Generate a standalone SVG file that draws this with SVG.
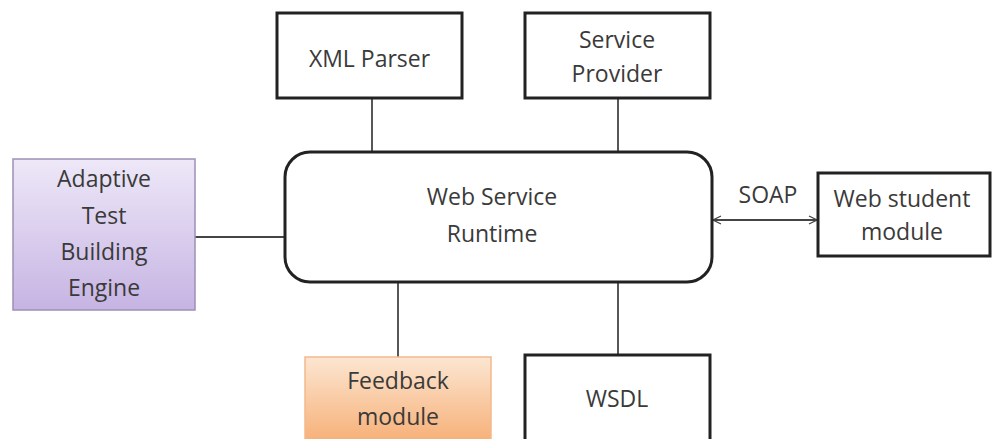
<svg xmlns="http://www.w3.org/2000/svg" width="995" height="439" viewBox="0 0 995 439">
<defs>
<linearGradient id="gPurple" x1="0" y1="0" x2="0" y2="1">
<stop offset="0" stop-color="#eee8f8"/>
<stop offset="1" stop-color="#c6b4e3"/>
</linearGradient>
<linearGradient id="gOrange" x1="0" y1="0" x2="0" y2="1">
<stop offset="0" stop-color="#fce6d2"/>
<stop offset="1" stop-color="#f6ad72"/>
</linearGradient>
<marker id="arr" viewBox="0 0 10 10" refX="9" refY="5" markerWidth="10" markerHeight="10" markerUnits="userSpaceOnUse" orient="auto-start-reverse">
<path d="M1,1 L9,5 L1,9" fill="none" stroke="#444" stroke-width="1.3"/>
</marker>
<style>
.box{fill:#fff;stroke:#222;stroke-width:3}
.t{font-family:"Open Sans","Liberation Sans",sans-serif;font-size:23px;fill:#3a3a3a;text-anchor:middle;dominant-baseline:central}
.ln{stroke:#444;stroke-width:1.8;fill:none}
</style>
</defs>
<rect width="995" height="439" fill="#fff"/>
<g id="connectors">
<line class="ln" x1="372" y1="98" x2="372" y2="152"/>
<line class="ln" x1="618" y1="98" x2="618" y2="152"/>
<line class="ln" x1="195" y1="237" x2="285" y2="237"/>
<line class="ln" x1="398" y1="282" x2="398" y2="357"/>
<line class="ln" x1="618" y1="282" x2="618" y2="355"/>
<line class="ln" x1="713" y1="220" x2="817" y2="220" marker-start="url(#arr)" marker-end="url(#arr)"/>
<text class="t" x="768" y="194">SOAP</text>
</g>
<g id="xml-parser">
<rect class="box" x="277" y="13" width="185" height="85"/>
<text class="t" x="369.5" y="58">XML Parser</text>
</g>
<g id="service-provider">
<rect class="box" x="525" y="13" width="185" height="85"/>
<text class="t" x="617" y="39">Service</text>
<text class="t" x="617" y="73">Provider</text>
</g>
<g id="runtime">
<rect class="box" x="285" y="152" width="427" height="130" rx="25" ry="25"/>
<text class="t" x="492" y="196">Web Service</text>
<text class="t" x="492" y="233">Runtime</text>
</g>
<g id="adaptive">
<rect x="13" y="159" width="182" height="151" fill="url(#gPurple)" stroke="#9d90b5" stroke-width="1.5"/>
<text class="t" x="104" y="178">Adaptive</text>
<text class="t" x="104" y="215">Test</text>
<text class="t" x="104" y="251">Building</text>
<text class="t" x="104" y="287">Engine</text>
</g>
<g id="web-student">
<rect class="box" x="818" y="173" width="172" height="83"/>
<text class="t" x="902" y="198">Web student</text>
<text class="t" x="902" y="231">module</text>
</g>
<g id="feedback">
<rect x="305" y="357" width="186" height="90" fill="url(#gOrange)" stroke="#f3b98c" stroke-width="1.5"/>
<text class="t" x="398" y="380">Feedback</text>
<text class="t" x="398" y="416">module</text>
</g>
<g id="wsdl">
<rect class="box" x="525" y="355" width="185" height="92"/>
<text class="t" x="617" y="398">WSDL</text>
</g>
</svg>
